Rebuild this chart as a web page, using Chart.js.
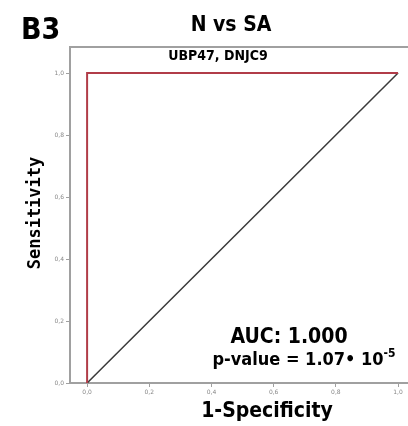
<!DOCTYPE html>
<html>
<head>
<meta charset="utf-8">
<script src="https://cdn.jsdelivr.net/npm/chart.js@4"></script>
<style>
  html, body { margin: 0; padding: 0; background: #fff; }
</style>
</head>
<body>
<canvas id="rocChart" width="408" height="426"></canvas>
<script>
// ROC curve and reference diagonal
const rocX = [0, 0, 1];
const rocY = [0, 1, 1];
const refX = [0, 1];
const refY = [0, 1];
const tickValues = [0, 0.2, 0.4, 0.6, 0.8, 1.0];
const tickLabels = ["0,0", "0,2", "0,4", "0,6", "0,8", "1,0"];

const panelLabel = "B3";
const titleText = "N vs SA";
const subtitleText = "UBP47, DNJC9";
const aucText = "AUC: 1.000";
const xTitle = "1-Specificity";
const yTitle = "Sensitivity";

const toPoints = (xs, ys) => xs.map((x, i) => ({ x: x, y: ys[i] }));
const condensed = "'DejaVu Sans Condensed', 'DejaVu Sans'";

const textPlugin = {
  id: "panelText",
  afterDraw(chart) {
    const ctx = chart.ctx;
    const area = chart.chartArea;
    ctx.save();
    // frame top line
    ctx.strokeStyle = "#a0a0a0";
    ctx.lineWidth = 2;
    ctx.beginPath();
    ctx.moveTo(area.left, area.top);
    ctx.lineTo(area.right + 2, area.top);
    ctx.stroke();

    ctx.fillStyle = "#000";
    ctx.textBaseline = "alphabetic";
    ctx.textAlign = "left";
    ctx.font = "bold 30px " + condensed;
    ctx.fillText(panelLabel, 21, 39);

    ctx.textAlign = "center";
    ctx.font = "bold 21px " + condensed;
    ctx.fillText(titleText, 231, 31);

    ctx.font = "bold 14px " + condensed;
    ctx.fillText(subtitleText, 218, 60);

    ctx.font = "bold 21px " + condensed;
    ctx.fillText(aucText, 289, 343);

    // p-value with superscript
    const base = "p-value = 1.07\u2022 10";
    const sup = "-5";
    ctx.textAlign = "left";
    ctx.font = "bold 18px " + condensed;
    const bw = ctx.measureText(base).width;
    ctx.font = "bold 12px " + condensed;
    const sw = ctx.measureText(sup).width;
    const startX = 304 - (bw + sw) / 2;
    ctx.font = "bold 18px " + condensed;
    ctx.fillText(base, startX, 365);
    ctx.font = "bold 12px " + condensed;
    ctx.fillText(sup, startX + bw, 357);

    ctx.textAlign = "center";
    ctx.font = "bold 21px " + condensed;
    ctx.fillText(xTitle, 267, 417);

    ctx.translate(40, 213);
    ctx.rotate(-Math.PI / 2);
    ctx.font = "bold 17px 'DejaVu Sans Mono', 'DejaVu Sans'";
    ctx.fillText(yTitle, 0, 0);
    ctx.restore();
  }
};

const axisColor = "#a0a0a0";
const tickFont = { family: "'DejaVu Sans'", size: 6 };
const tickLabel = (v) => tickLabels[tickValues.findIndex((t) => Math.abs(t - v) < 1e-6)];

new Chart(document.getElementById("rocChart").getContext("2d"), {
  type: "scatter",
  data: {
    datasets: [
      {
        label: "ROC",
        data: toPoints(rocX, rocY),
        showLine: true,
        borderColor: "#b13c48",
        borderWidth: 2,
        pointRadius: 0,
        tension: 0,
      },
      {
        label: "Reference",
        data: toPoints(refX, refY),
        showLine: true,
        borderColor: "#3a3a3a",
        borderWidth: 1.5,
        pointRadius: 0,
        tension: 0,
      },
    ],
  },
  options: {
    responsive: false,
    animation: false,
    layout: { padding: { top: 47, right: 0, left: 0, bottom: 0 } },
    plugins: {
      legend: { display: false },
      tooltip: { enabled: false },
    },
    scales: {
      x: {
        type: "linear",
        min: -0.055,
        max: 1.032,
        afterBuildTicks: (scale) => {
          scale.ticks = tickValues.map((v) => ({ value: v }));
        },
        afterFit: (scale) => {
          scale.height = 43;
        },
        ticks: {
          font: tickFont,
          color: "#888",
          padding: 2,
          maxRotation: 0,
          autoSkip: false,
          callback: tickLabel,
        },
        grid: { drawOnChartArea: false, color: axisColor, tickLength: 4, lineWidth: 1 },
        border: { color: axisColor, width: 2 },
      },
      y: {
        type: "linear",
        min: 0,
        max: 1.084,
        afterBuildTicks: (scale) => {
          scale.ticks = tickValues.map((v) => ({ value: v }));
        },
        afterFit: (scale) => {
          scale.width = 70;
        },
        ticks: {
          font: tickFont,
          color: "#888",
          padding: 2,
          autoSkip: false,
          callback: tickLabel,
        },
        grid: { drawOnChartArea: false, color: axisColor, tickLength: 4, lineWidth: 1 },
        border: { color: axisColor, width: 2 },
      },
    },
  },
  plugins: [textPlugin],
});
</script>
</body>
</html>
